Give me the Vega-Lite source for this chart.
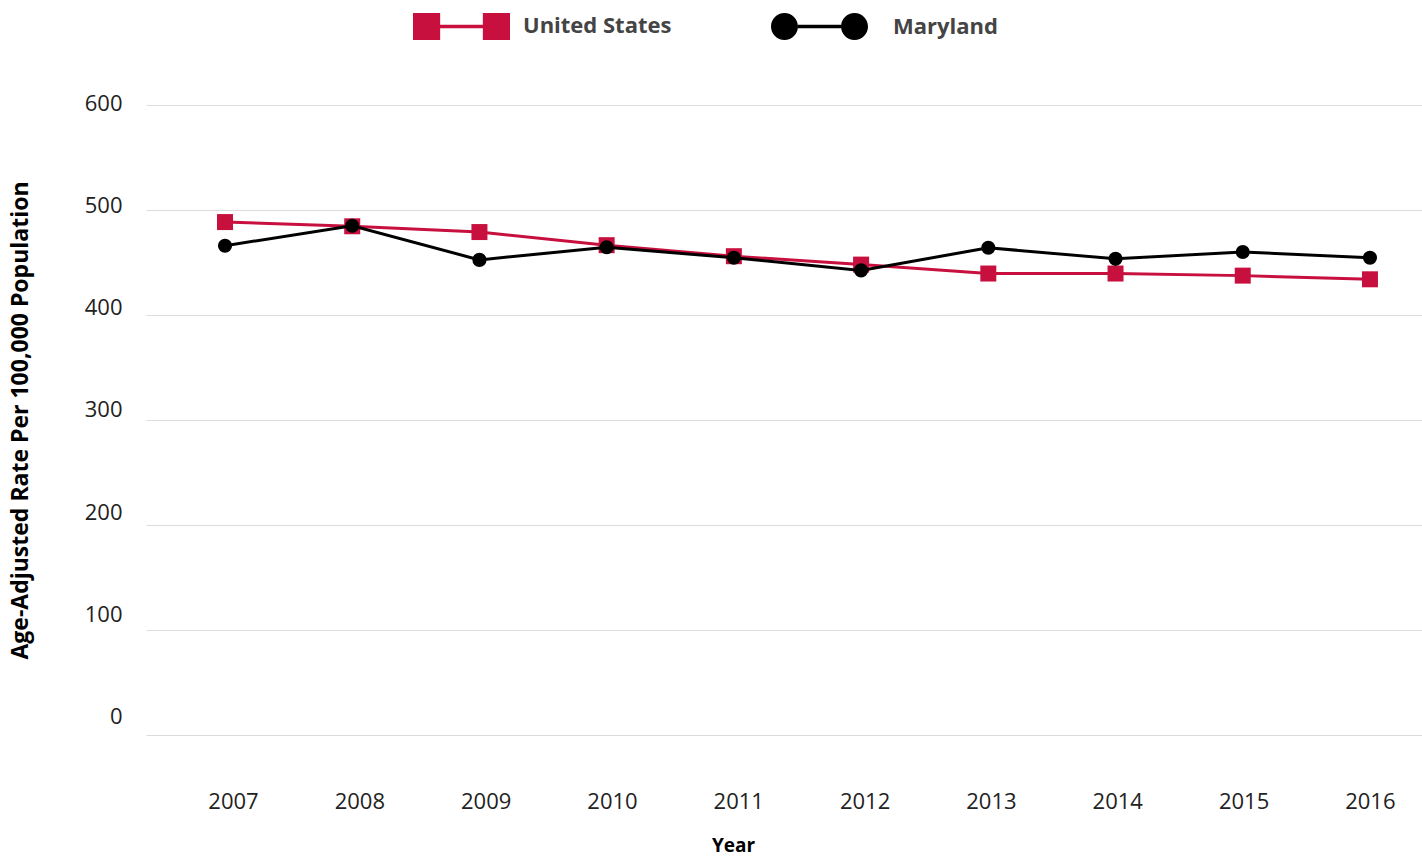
{
  "$schema": "https://vega.github.io/schema/vega-lite/v6.json",
  "autosize": "none",
  "width": 1276,
  "height": 630,
  "padding": {"left": 146, "top": 105, "right": 0, "bottom": 121},
  "background": "#ffffff",
  "config": {
    "view": {"stroke": null},
    "font": "Open Sans"
  },
  "data": {
    "values": [
      {"year": 2007, "series": "United States", "rate": 488.5},
      {"year": 2008, "series": "United States", "rate": 484.5},
      {"year": 2009, "series": "United States", "rate": 479},
      {"year": 2010, "series": "United States", "rate": 466.5},
      {"year": 2011, "series": "United States", "rate": 456},
      {"year": 2012, "series": "United States", "rate": 448},
      {"year": 2013, "series": "United States", "rate": 439.5},
      {"year": 2014, "series": "United States", "rate": 439.5},
      {"year": 2015, "series": "United States", "rate": 437.5},
      {"year": 2016, "series": "United States", "rate": 434},
      {"year": 2007, "series": "Maryland", "rate": 466},
      {"year": 2008, "series": "Maryland", "rate": 485},
      {"year": 2009, "series": "Maryland", "rate": 452.5},
      {"year": 2010, "series": "Maryland", "rate": 464.5},
      {"year": 2011, "series": "Maryland", "rate": 454.5},
      {"year": 2012, "series": "Maryland", "rate": 442.5},
      {"year": 2013, "series": "Maryland", "rate": 464},
      {"year": 2014, "series": "Maryland", "rate": 453.5},
      {"year": 2015, "series": "Maryland", "rate": 460},
      {"year": 2016, "series": "Maryland", "rate": 454.5}
    ]
  },
  "encoding": {
    "x": {
      "field": "year",
      "type": "quantitative",
      "scale": {"domain": [2006.379, 2016.409], "nice": false, "zero": false},
      "axis": {
        "title": "Year",
        "values": [2007, 2008, 2009, 2010, 2011, 2012, 2013, 2014, 2015, 2016],
        "format": "d",
        "grid": false,
        "domain": false,
        "ticks": false,
        "tickSize": 0,
        "labelFont": "Open Sans",
        "labelFontSize": 22,
        "labelColor": "#222222",
        "labelBaseline": "middle",
        "labelPadding": 66,
        "labelFlush": false,
        "labelOverlap": false,
        "labelOffset": {"expr": "8 - (datum.value - 2007) * 0.9"},
        "titleFont": "Open Sans",
        "titleFontSize": 19,
        "titleFontWeight": "bold",
        "titleColor": "#000000",
        "titleX": 587,
        "titleY": 110,
        "titleBaseline": "middle",
        "titleAlign": "center"
      }
    },
    "y": {
      "field": "rate",
      "type": "quantitative",
      "scale": {"domain": [0, 600], "nice": false},
      "axis": {
        "title": "Age-Adjusted Rate Per 100,000 Population",
        "values": [0, 100, 200, 300, 400, 500, 600],
        "grid": true,
        "gridColor": "#dcdcdc",
        "gridWidth": 1,
        "domain": false,
        "ticks": false,
        "tickSize": 0,
        "labelFont": "Open Sans",
        "labelFontSize": 22,
        "labelColor": "#222222",
        "labelPadding": 24,
        "labelOffset": {"expr": "-2 - (600 - datum.value) * 0.027"},
        "titleFont": "Open Sans",
        "titleFontSize": 23,
        "titleFontWeight": "bold",
        "titleColor": "#000000",
        "titleAngle": -90,
        "titleX": -126,
        "titleY": 315,
        "titleBaseline": "middle",
        "titleAlign": "center"
      }
    },
    "color": {
      "field": "series",
      "type": "nominal",
      "scale": {"domain": ["United States", "Maryland"], "range": ["#c8103e", "#000000"]},
      "legend": {
        "title": null,
        "orient": "none",
        "direction": "horizontal",
        "legendX": 267,
        "legendY": -127.5,
        "padding": 0,
        "symbolSize": 9409,
        "symbolStrokeWidth": 0,
        "labelFont": "Open Sans",
        "labelFontSize": 22,
        "labelFontWeight": "bold",
        "labelColor": "#444444",
        "labelOffset": 13,
        "labelLimit": 400,
        "columnPadding": 98,
        "encode": {
          "symbols": {
            "update": {
              "shape": {"signal": "datum.value === 'United States' ? 'M-1,-0.28H-0.44V-0.035H0.44V-0.28H1V0.28H0.44V0.035H-0.44V0.28H-1Z' : 'M-1,0A0.278,0.278 0 1,1 -0.444,0A0.278,0.278 0 1,1 -1,0Z M-0.444,-0.035H0.444V0.035H-0.444Z M0.444,0A0.278,0.278 0 1,1 1,0A0.278,0.278 0 1,1 0.444,0Z'"},
              "fill": {"signal": "datum.value === 'United States' ? '#c8103e' : '#000000'"},
              "stroke": {"value": "transparent"},
              "strokeWidth": {"value": 0},
              "opacity": {"value": 1},
              "size": {"value": 9409}
            }
          },
          "labels": {
            "update": {"dx": {"signal": "datum.value === 'Maryland' ? 12 : 0"}}
          }
        }
      }
    }
  },
  "layer": [
    {
      "transform": [{"filter": "datum.series === 'United States'"}],
      "mark": {"type": "line", "strokeWidth": 3}
    },
    {
      "transform": [{"filter": "datum.series === 'United States'"}],
      "mark": {"type": "point", "shape": "square", "filled": true, "opacity": 1, "size": 256}
    },
    {
      "transform": [{"filter": "datum.series === 'Maryland'"}],
      "mark": {"type": "line", "strokeWidth": 3}
    },
    {
      "transform": [{"filter": "datum.series === 'Maryland'"}],
      "mark": {"type": "point", "shape": "circle", "filled": true, "opacity": 1, "size": 200}
    }
  ]
}
